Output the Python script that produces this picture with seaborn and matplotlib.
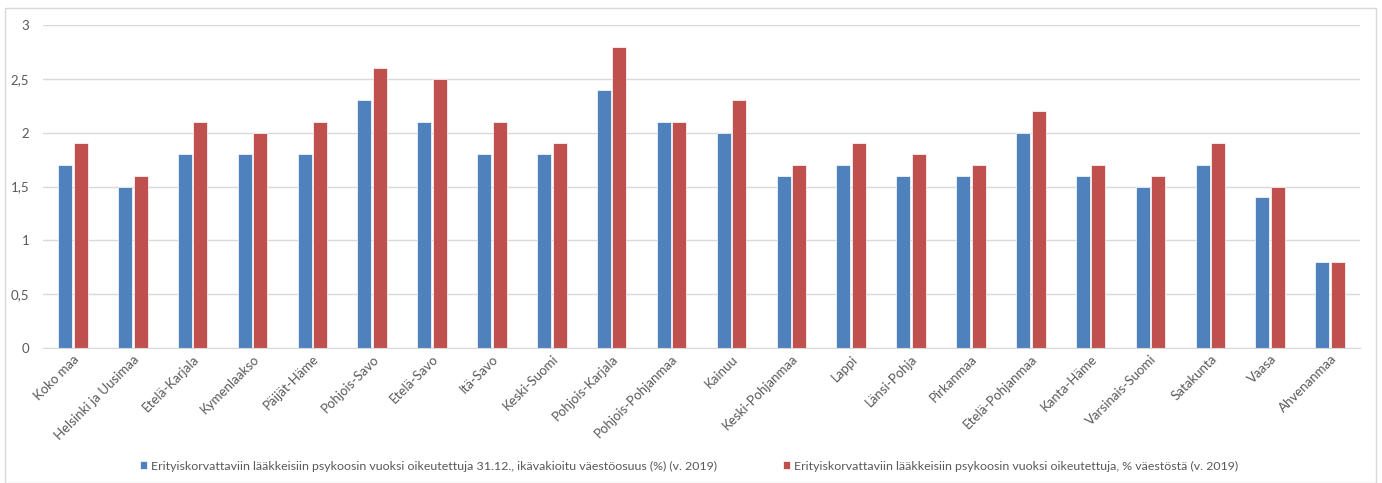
import matplotlib
matplotlib.use("Agg")
import matplotlib.pyplot as plt
import seaborn as sns
import pandas as pd
from matplotlib.patches import Rectangle
from matplotlib.ticker import FuncFormatter

categories = ["Koko maa", "Helsinki ja Uusimaa", "Etelä-Karjala", "Kymenlaakso",
              "Päijät-Häme", "Pohjois-Savo", "Etelä-Savo", "Itä-Savo", "Keski-Suomi",
              "Pohjois-Karjala", "Pohjois-Pohjanmaa", "Kainuu", "Keski-Pohjanmaa",
              "Lappi", "Länsi-Pohja", "Pirkanmaa", "Etelä-Pohjanmaa", "Kanta-Häme",
              "Varsinais-Suomi", "Satakunta", "Vaasa", "Ahvenanmaa"]
series1_name = "Erityiskorvattaviin lääkkeisiin psykoosin vuoksi oikeutettuja 31.12., ikävakioitu väestöosuus (%) (v. 2019)"
series2_name = "Erityiskorvattaviin lääkkeisiin psykoosin vuoksi oikeutettuja, % väestöstä (v. 2019)"
series1 = [1.7, 1.5, 1.8, 1.8, 1.8, 2.3, 2.1, 1.8, 1.8, 2.4, 2.1, 2.0, 1.6, 1.7, 1.6, 1.6, 2.0, 1.6, 1.5, 1.7, 1.4, 0.8]
series2 = [1.9, 1.6, 2.1, 2.0, 2.1, 2.6, 2.5, 2.1, 1.9, 2.8, 2.1, 2.3, 1.7, 1.9, 1.8, 1.7, 2.2, 1.7, 1.6, 1.9, 1.5, 0.8]
yticks = [0, 0.5, 1, 1.5, 2, 2.5, 3]

df = pd.DataFrame({
    "region": categories * 2,
    "value": series1 + series2,
    "series": [series1_name] * len(categories) + [series2_name] * len(categories),
})

sns.set_style("white")
plt.rcParams["font.family"] = ["Lato", "DejaVu Sans"]

fig = plt.figure(figsize=(13.82, 4.83), dpi=100)
ax = fig.add_axes([43 / 1382, 1 - 348 / 483, (1360 - 43) / 1382, (348 - 25) / 483])

palette = {series1_name: "#4f81bd", series2_name: "#c0504d"}
sns.barplot(data=df, x="region", y="value", hue="series", palette=palette,
            width=0.52, gap=0.1, ax=ax, edgecolor="white", linewidth=0.5,
            saturation=1, legend=True)

ax.set_ylim(0, 3)
ax.set_xlim(-0.5, len(categories) - 0.5)
ax.set_yticks(yticks)
ax.yaxis.set_major_formatter(FuncFormatter(lambda v, p: (f"{v:g}").replace(".", ",")))
ax.grid(axis="y", color="#d9d9d9", linewidth=1)
ax.set_axisbelow(True)
for s in ["top", "right", "left"]:
    ax.spines[s].set_visible(False)
ax.spines["bottom"].set_color("#d9d9d9")
ax.set_xlabel("")
ax.set_ylabel("")
ax.tick_params(axis="both", length=0, colors="#595959", labelsize=9.5)
ax.tick_params(axis="y", pad=10)
plt.setp(ax.get_xticklabels(), rotation=45, ha="right", rotation_mode="anchor")

handles, labels = ax.get_legend_handles_labels()
ax.legend(handles, labels, loc="center", ncol=2, frameon=False, fontsize=8.9,
          handlelength=0.6, handleheight=0.6, handletextpad=0.3, columnspacing=5.3,
          labelcolor="#595959")
leg = ax.get_legend()
leg.set_bbox_to_anchor((0.5 - 2 / 1382, 1 - 466 / 483), transform=fig.transFigure)

fig.patches.append(Rectangle((5 / 1382, 0), (1376 - 5) / 1382, 1 - 8 / 483,
                             transform=fig.transFigure, fill=False,
                             edgecolor="#d9d9d9", linewidth=1))

fig.savefig("out.png", dpi=100)
